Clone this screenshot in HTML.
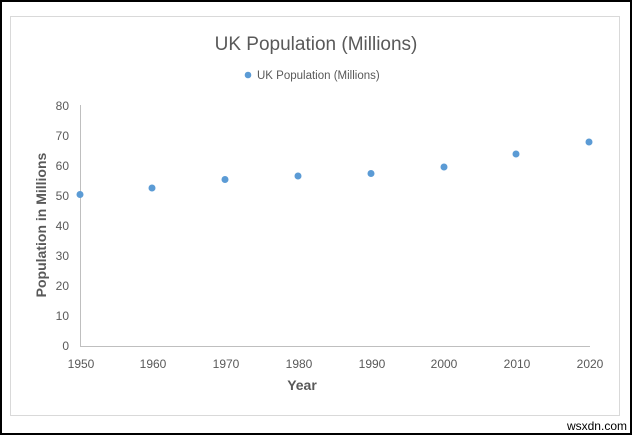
<!DOCTYPE html>
<html><head><style>body{margin:0;background:#fff}</style></head><body>
<svg width="632" height="437" xmlns="http://www.w3.org/2000/svg" font-family="Liberation Sans, sans-serif">
<rect x="1" y="1" width="630" height="433" fill="#fff" stroke="#000" stroke-width="2"/>
<rect x="10.5" y="16.5" width="609" height="399" fill="#fff" stroke="#d9d9d9"/>
<text x="316" y="50" font-size="19" fill="#595959" text-anchor="middle">UK Population (Millions)</text>
<circle cx="248" cy="75" r="3.3" fill="#5b9bd5"/>
<text x="257" y="79" font-size="11.5" fill="#595959">UK Population (Millions)</text>
<line x1="80.5" y1="105" x2="80.5" y2="346" stroke="#bfbfbf"/>
<line x1="80" y1="346.5" x2="590" y2="346.5" stroke="#bfbfbf"/>
<g font-size="12" fill="#595959" text-anchor="end">
<text x="69" y="110">80</text><text x="69" y="140">70</text><text x="69" y="170">60</text><text x="69" y="200">50</text><text x="69" y="230">40</text><text x="69" y="260">30</text><text x="69" y="290">20</text><text x="69" y="320">10</text><text x="69" y="350">0</text>
</g>
<g font-size="12" fill="#595959" text-anchor="middle">
<text x="81" y="368">1950</text><text x="153" y="368">1960</text><text x="226" y="368">1970</text><text x="299" y="368">1980</text><text x="372" y="368">1990</text><text x="444" y="368">2000</text><text x="517" y="368">2010</text><text x="590" y="368">2020</text>
</g>
<text x="302" y="390" font-size="14" font-weight="bold" fill="#595959" text-anchor="middle">Year</text>
<text transform="translate(46,225) rotate(-90)" font-size="14" font-weight="bold" fill="#595959" text-anchor="middle">Population in Millions</text>
<g fill="#5b9bd5">
<circle cx="80" cy="194.5" r="3.5"/><circle cx="152" cy="188" r="3.5"/><circle cx="225" cy="179.5" r="3.5"/><circle cx="298" cy="176" r="3.5"/><circle cx="371" cy="173.5" r="3.5"/><circle cx="444" cy="167" r="3.5"/><circle cx="516" cy="154" r="3.5"/><circle cx="589" cy="142" r="3.5"/>
</g>
<text x="627" y="430" font-size="12" fill="#000" text-anchor="end">wsxdn.com</text>
</svg>
</body></html>
